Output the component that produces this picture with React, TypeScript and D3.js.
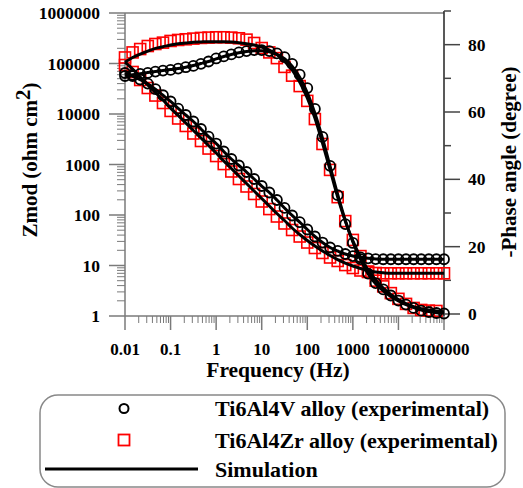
import React from 'react';
import * as d3 from 'd3';

// Frequencies (Hz), ascending
const freq = [0.01, 0.01468, 0.02154, 0.03162, 0.04642, 0.06813, 0.1, 0.1468, 0.2154, 0.3162, 0.4642, 0.6813,
  1, 1.468, 2.154, 3.162, 4.642, 6.813, 10, 14.68, 21.54, 31.62, 46.42, 68.13,
  100, 146.8, 215.4, 316.2, 464.2, 681.3, 1000, 1468, 2154, 3162, 4642, 6813,
  10000, 14680, 21540, 31620, 46420, 68130, 100000];

// Ti6Al4V experimental |Z| (ohm cm2)
const zmodV = [64900, 56500, 48200, 40000, 31000, 23500, 17700, 12800, 9550, 7100, 5050, 3550,
  2600, 1810, 1285, 955, 710, 516, 375, 279, 198, 138, 97.7, 72,
  51.6, 37.5, 28.5, 22.7, 19.4, 16.9, 15.4, 14.5, 13.9, 13.4, 13.3, 13.3,
  13.3, 13.3, 13.3, 13.3, 13.3, 13.3, 13.3];
// Ti6Al4Zr experimental |Z|
const zmodZr = [93300, 67900, 47100, 32700, 23200, 16500, 11500, 8150, 5790, 4110, 2920, 2070,
  1470, 1020, 727, 516, 367, 261, 185, 131, 93.4, 67.9, 50.5, 37.5,
  28.5, 22.2, 17.7, 14.4, 12.3, 10.2, 8.92, 7.96, 7.43, 7.1, 7.01, 7.01,
  7.01, 7.01, 7.01, 7.01, 7.01, 7.01, 7.01];
// Ti6Al4V experimental -phase (deg)
const phaseV = [70.7, 71.0, 71.3, 71.6, 72.0, 72.3, 72.5, 72.9, 73.3, 73.7, 74.3, 75.0,
  75.9, 76.5, 77.1, 77.7, 78.1, 78.4, 78.4, 78.1, 77.4, 76.3, 74.3, 71.1,
  67.1, 60.9, 52.6, 44.0, 35.3, 26.7, 21.1, 16.3, 12.0, 9.2, 7.3, 5.5,
  4.0, 2.8, 1.8, 1.0, 0.6, 0.3, 0.15];
// Ti6Al4Zr experimental -phase (deg)
const phaseZr = [76.2, 77.7, 78.7, 79.6, 80.2, 80.6, 81.1, 81.4, 81.6, 81.8, 82.0, 82.1,
  82.2, 82.2, 82.1, 81.9, 81.5, 80.5, 79.0, 77.7, 76.0, 73.4, 70.8, 67.7,
  63.3, 57.9, 50.5, 42.8, 34.7, 27.6, 22.0, 17.2, 12.6, 9.9, 8.2, 6.2,
  4.5, 3.0, 1.8, 1.2, 1.0, 0.9];

// Simulation (fitted) curves
const simZmodV = [65000, 56000, 47800, 39800, 31000, 23500, 17700, 12900, 9550, 7100, 5050, 3560,
  2600, 1810, 1285, 955, 710, 516, 375, 279, 198, 138, 98, 72,
  51.6, 37.5, 28.5, 22.7, 19.4, 16.9, 15.4, 14.5, 13.9, 13.5, 13.3, 13.3,
  13.3, 13.3, 13.3, 13.3, 13.3, 13.3, 13.3];
const simZmodZr = [107000, 77800, 54000, 37500, 26700, 18900, 13100, 9340, 6630, 4710, 3350, 2380,
  1690, 1170, 834, 592, 421, 299, 212, 151, 107, 77.8, 55.3, 41.1,
  31.3, 24.3, 19.4, 15.8, 13.1, 11.2, 9.78, 8.72, 7.96, 7.43, 7.17, 7.01,
  7.01, 7.01, 7.01, 7.01, 7.01, 7.01, 7.01];
const simPhaseV = [70.8, 71.1, 71.4, 71.7, 72.0, 72.3, 72.6, 72.9, 73.3, 73.8, 74.4, 75.0,
  75.8, 76.5, 77.1, 77.6, 78.0, 78.2, 78.2, 77.9, 77.1, 75.8, 73.6, 70.3,
  65.7, 59.6, 52.2, 43.9, 35.5, 27.8, 21.4, 16.2, 12.0, 9.0, 6.9, 5.2,
  3.9, 2.8, 1.9, 1.2, 0.7, 0.4, 0.2];
const simPhaseZr = [74.8, 76.2, 77.2, 78.1, 78.9, 79.4, 79.9, 80.3, 80.5, 80.7, 80.8, 80.9,
  80.9, 80.9, 80.8, 80.6, 80.3, 79.9, 79.3, 78.4, 77.1, 75.1, 72.5, 68.9,
  64.2, 58.2, 50.8, 42.8, 34.7, 27.6, 21.7, 16.9, 13.1, 10.1, 7.7, 5.8,
  4.3, 3.1, 2.2, 1.6, 1.2, 0.9, 0.7];

const xTickLabels = ['0.01', '0.1', '1', '10', '100', '1000', '10000', '100000'];
const yTickLabels = ['1', '10', '100', '1000', '10000', '100000', '1000000'];
const phaseTickLabels = ['0', '20', '40', '60', '80'];
const legendLabels = ['Ti6Al4V alloy (experimental)', 'Ti6Al4Zr alloy (experimental)', 'Simulation'];

const FONT = '"Liberation Serif", "Times New Roman", Times, serif';

export default function App() {
  const W = 523, H = 488;
  const x = d3.scaleLog().domain([0.01, 1e5]).range([125, 444]);
  const yZ = d3.scaleLog().domain([1, 1e6]).range([316, 13]);
  const yP = d3.scaleLinear().domain([0, 90]).range([314, 11]);

  const lineZ = d3.line<[number, number]>().x(d => x(d[0])).y(d => yZ(d[1])).curve(d3.curveMonotoneX);
  const lineP = d3.line<[number, number]>().x(d => x(d[0])).y(d => yP(d[1])).curve(d3.curveMonotoneX);
  const pairs = (vals: number[]) => vals.map((v, i) => [freq[i], v] as [number, number]);

  const axisGray = '#7a7a7a';
  const xMinor: number[] = [];
  for (let d = -2; d < 5; d++) for (let k = 2; k <= 9; k++) xMinor.push(k * Math.pow(10, d));
  const yMinor: number[] = [];
  for (let d = 0; d < 6; d++) for (let k = 2; k <= 9; k++) yMinor.push(k * Math.pow(10, d));
  const pMinor = [10, 30, 50, 70, 90];

  const sq = 11;
  const circleR = 5;

  return (
    <svg width={W} height={H} style={{ position: 'absolute', left: 0, top: 0, background: '#fff' }}
      fontFamily={FONT} fontWeight="bold">
      {/* frame top line */}
      <line x1={125} x2={444} y1={13} y2={13} stroke={axisGray} strokeWidth={1.5} />
      {/* left axis */}
      <line x1={125} x2={125} y1={13} y2={316} stroke={axisGray} strokeWidth={1.5} />
      {yTickLabels.map(t => (
        <g key={'yt' + t}>
          <line x1={109} x2={125} y1={yZ(+t)} y2={yZ(+t)} stroke={axisGray} strokeWidth={1.5} />
          <text x={100} y={yZ(+t)} dy="0.35em" textAnchor="end" fontSize={17.5}>{t}</text>
        </g>
      ))}
      {yMinor.map((v, i) => (
        <line key={'ym' + i} x1={117} x2={125} y1={yZ(v)} y2={yZ(v)} stroke={axisGray} strokeWidth={1} />
      ))}
      {/* bottom axis */}
      <line x1={125} x2={444} y1={316} y2={316} stroke={axisGray} strokeWidth={1.5} />
      {xTickLabels.map(t => (
        <g key={'xt' + t}>
          <line x1={x(+t)} x2={x(+t)} y1={316} y2={330} stroke={axisGray} strokeWidth={1.5} />
          <text x={x(+t)} y={354.5} textAnchor="middle" fontSize={17}>{t}</text>
        </g>
      ))}
      {xMinor.map((v, i) => (
        <line key={'xm' + i} x1={x(v)} x2={x(v)} y1={316} y2={323} stroke={axisGray} strokeWidth={1} />
      ))}
      {/* right axis */}
      <line x1={444} x2={444} y1={11} y2={316} stroke="#222" strokeWidth={1.5} />
      {phaseTickLabels.map(t => (
        <g key={'pt' + t}>
          <line x1={444} x2={460} y1={yP(+t)} y2={yP(+t)} stroke="#444" strokeWidth={1.5} />
          <text x={468} y={yP(+t)} dy="0.35em" textAnchor="start" fontSize={17.5}>{t}</text>
        </g>
      ))}
      {pMinor.map(v => (
        <line key={'pm' + v} x1={444} x2={451} y1={yP(v)} y2={yP(v)} stroke="#444" strokeWidth={1.5} />
      ))}

      {/* axis titles */}
      <text transform="translate(36.5,160) rotate(-90)" textAnchor="middle" fontSize={21}>
        Zmod (ohm cm<tspan dy={-7} fontSize={21}>2</tspan><tspan dy={7}>)</tspan>
      </text>
      <text x={278} y={376.5} textAnchor="middle" fontSize={21.5}>Frequency (Hz)</text>
      <text transform="translate(516,162) rotate(-90)" textAnchor="middle" fontSize={21}>-Phase angle (degree)</text>

      {/* experimental markers */}
      {zmodZr.map((v, i) => (
        <rect key={'zs' + i} x={x(freq[i]) - sq / 2} y={yZ(v) - sq / 2} width={sq} height={sq}
          fill="none" stroke="#ff0000" strokeWidth={1.6} />
      ))}
      {phaseZr.map((v, i) => (
        <rect key={'ps' + i} x={x(freq[i]) - sq / 2} y={yP(v) - sq / 2} width={sq} height={sq}
          fill="none" stroke="#ff0000" strokeWidth={1.6} />
      ))}
      {zmodV.map((v, i) => (
        <circle key={'zc' + i} cx={x(freq[i])} cy={yZ(v)} r={circleR} fill="none" stroke="#000" strokeWidth={1.8} />
      ))}
      {phaseV.map((v, i) => (
        <circle key={'pc' + i} cx={x(freq[i])} cy={yP(v)} r={circleR} fill="none" stroke="#000" strokeWidth={1.8} />
      ))}

      {/* simulation lines */}
      <path d={lineZ(pairs(simZmodV)) || ''} fill="none" stroke="#000" strokeWidth={3} />
      <path d={lineZ(pairs(simZmodZr)) || ''} fill="none" stroke="#000" strokeWidth={3} />
      <path d={lineP(pairs(simPhaseV)) || ''} fill="none" stroke="#000" strokeWidth={3} />
      <path d={lineP(pairs(simPhaseZr)) || ''} fill="none" stroke="#000" strokeWidth={3} />

      {/* legend */}
      <rect x={40} y={395} width={465} height={92} rx={18} ry={18} fill="none" stroke="#888" strokeWidth={1.5} />
      <circle cx={124} cy={408.5} r={4.5} fill="none" stroke="#000" strokeWidth={2} />
      <text x={215} y={416} fontSize={22}>{legendLabels[0]}</text>
      <rect x={124 - 5.5} y={440 - 5.5} width={11} height={11} fill="none" stroke="#ff0000" strokeWidth={1.8} />
      <text x={215} y={448} fontSize={22}>{legendLabels[1]}</text>
      <line x1={45} x2={198} y1={469} y2={469} stroke="#000" strokeWidth={3} />
      <text x={215} y={476.5} fontSize={22}>{legendLabels[2]}</text>
    </svg>
  );
}
